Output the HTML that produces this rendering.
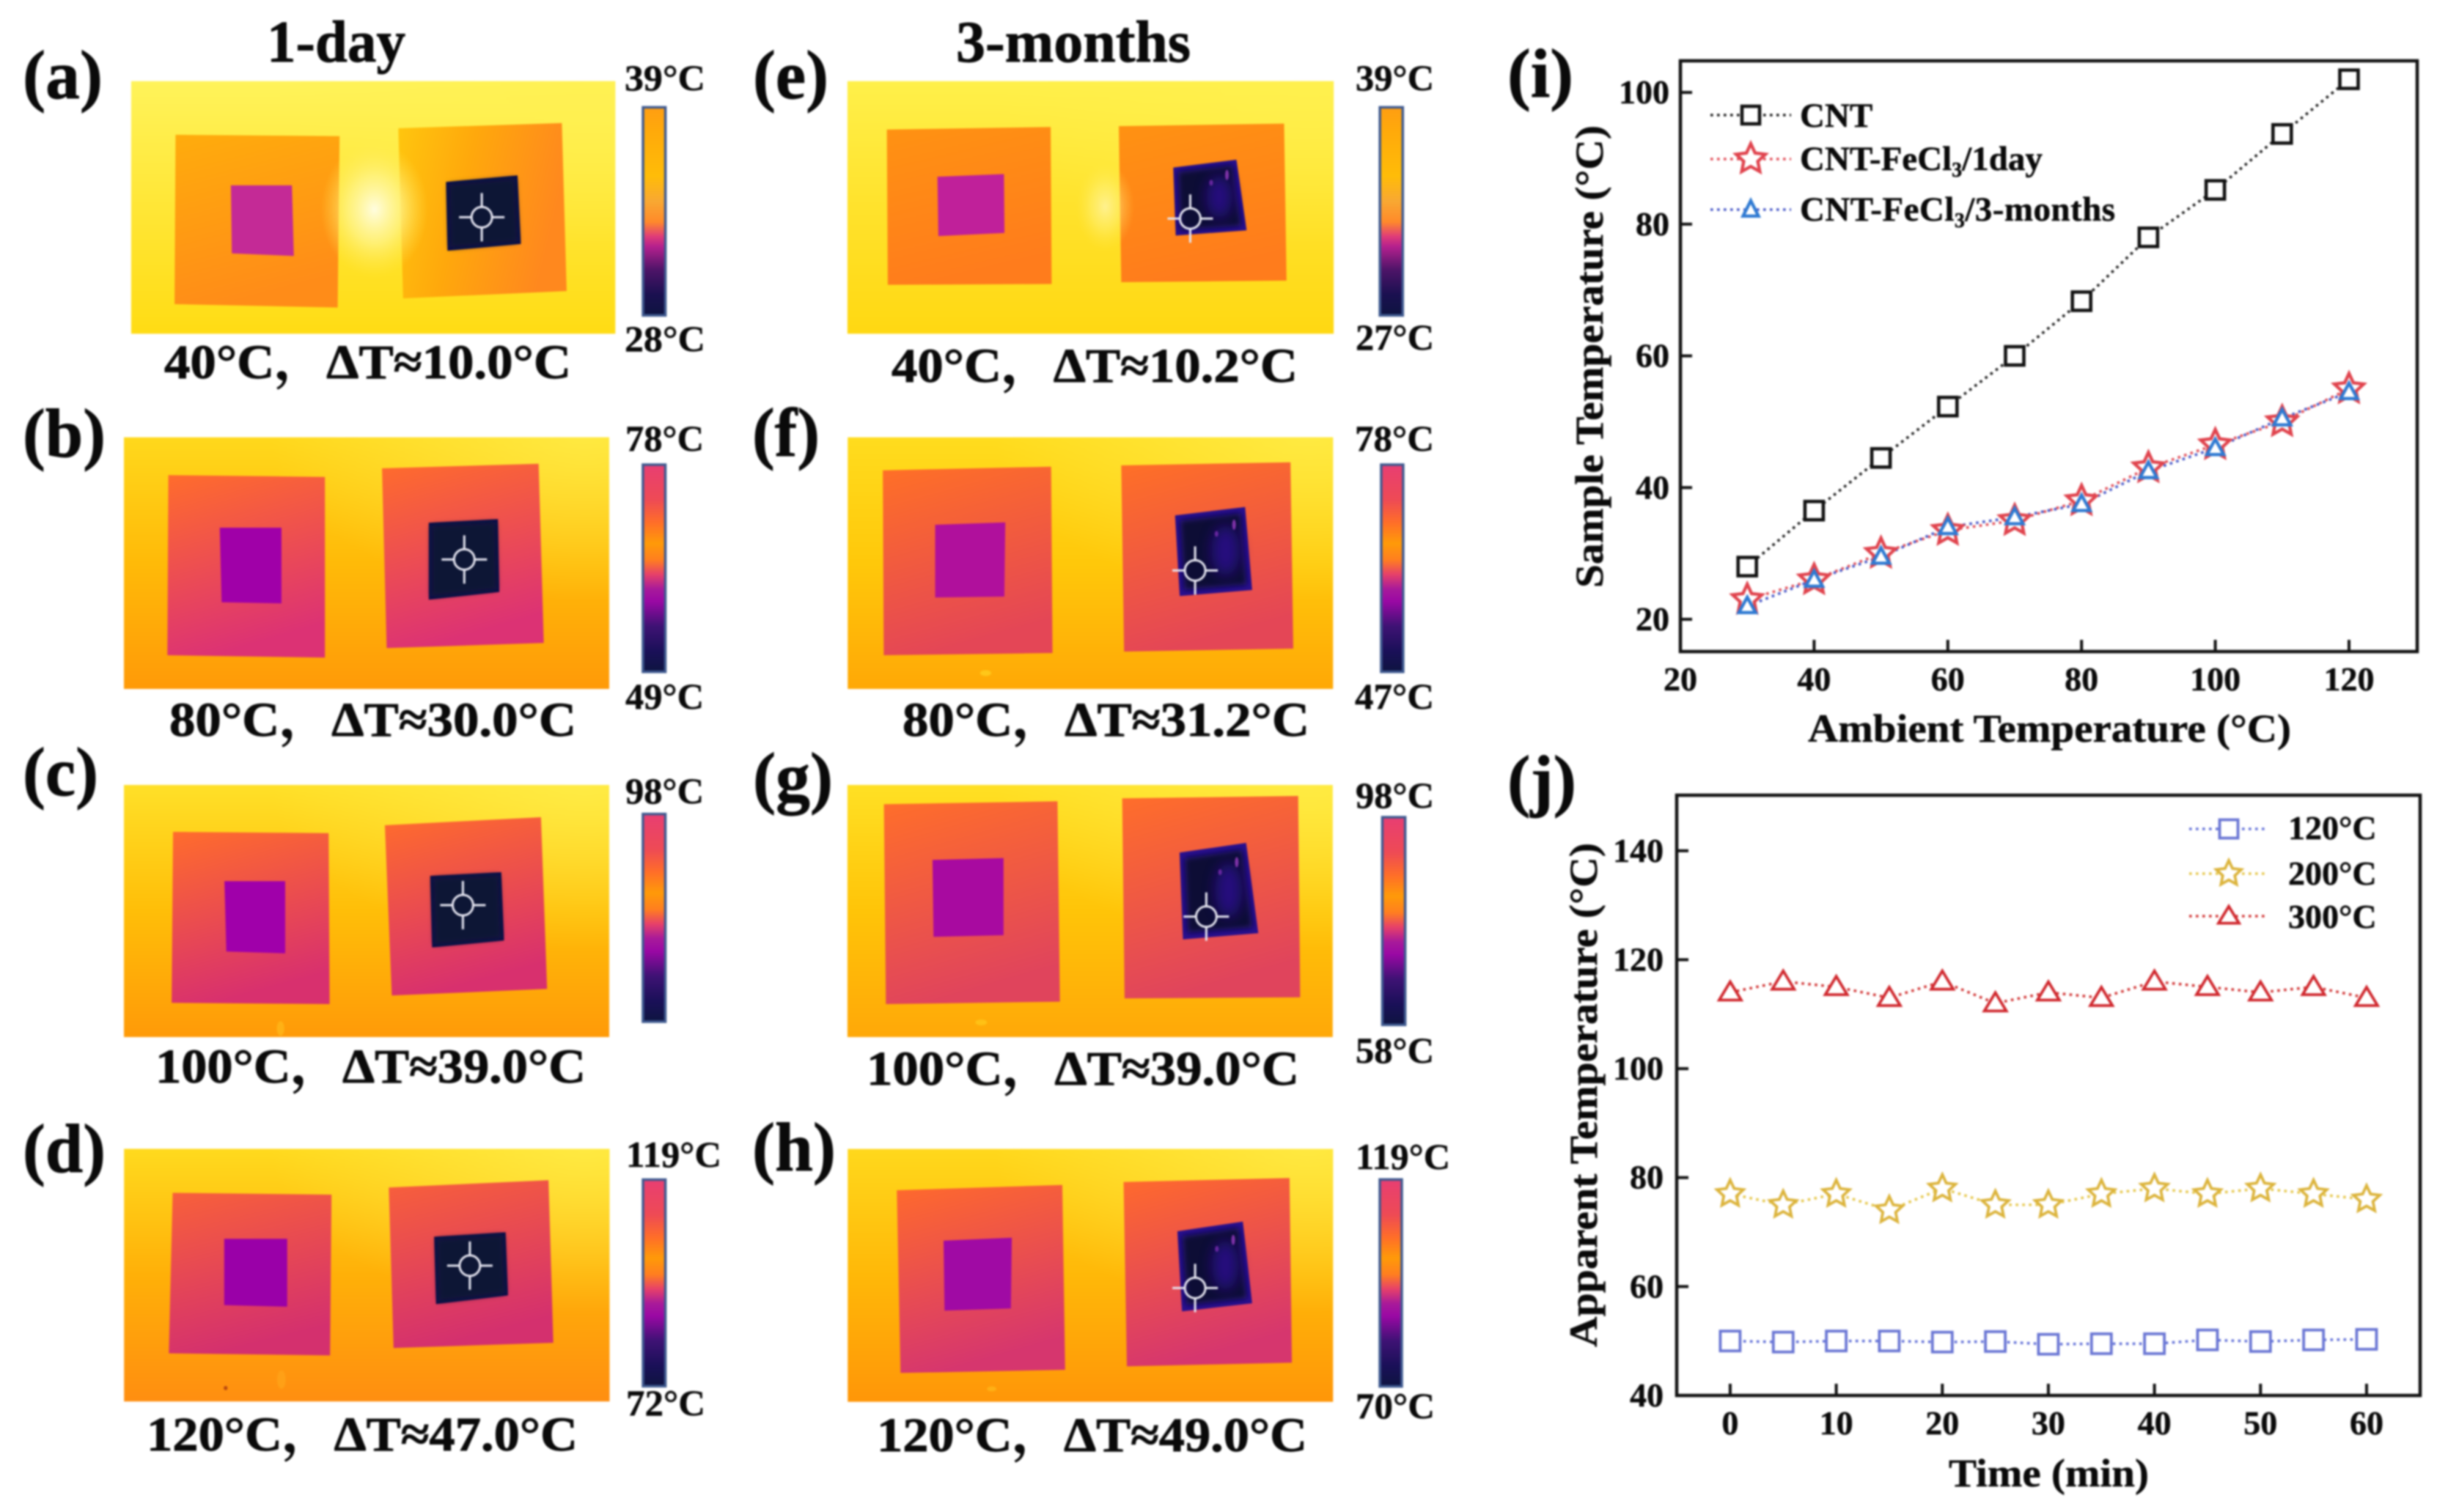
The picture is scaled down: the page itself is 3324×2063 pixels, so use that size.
<!DOCTYPE html>
<html lang="en">
<head>
<meta charset="utf-8">
<title>CNT-FeCl3 thermal imaging figure</title>
<style>
html,body{margin:0;padding:0;background:#fff;width:3324px;height:2063px;overflow:hidden}
#figure{display:block;filter:blur(1.2px)}
text{font-family:"Liberation Serif","Noto Serif CJK SC",serif;font-weight:bold;fill:#0a0a0a;stroke:#0a0a0a;stroke-width:.5px}
.letter{font-size:94px;stroke-width:.9px}
.title{font-size:80px;stroke-width:.9px}
.caption{font-size:66px;stroke-width:.9px}
.scale{font-size:50px}
.axis-title{font-size:54px}
.legend-text{font-size:47px}
.legend-text-j{font-size:46px}
</style>
</head>
<body>
<svg id="figure" xmlns="http://www.w3.org/2000/svg" width="3324" height="2063" viewBox="0 0 3324 2063">
<defs id="defs"></defs>
<g id="thermal-layer"></g>

<text class="title" x="364" y="84" textLength="189" lengthAdjust="spacingAndGlyphs">1-day</text>
<text class="title" x="1304" y="84" textLength="320" lengthAdjust="spacingAndGlyphs">3-months</text>

<text class="letter" x="31" y="134" textLength="109" lengthAdjust="spacingAndGlyphs">(a)</text>
<text class="letter" x="31" y="623" textLength="113" lengthAdjust="spacingAndGlyphs">(b)</text>
<text class="letter" x="31" y="1085" textLength="103" lengthAdjust="spacingAndGlyphs">(c)</text>
<text class="letter" x="31" y="1599" textLength="113" lengthAdjust="spacingAndGlyphs">(d)</text>
<text class="letter" x="1027" y="134" textLength="103" lengthAdjust="spacingAndGlyphs">(e)</text>
<text class="letter" x="1026" y="622" textLength="92" lengthAdjust="spacingAndGlyphs">(f)</text>
<text class="letter" x="1027" y="1092" textLength="109" lengthAdjust="spacingAndGlyphs">(g)</text>
<text class="letter" x="1026" y="1597" textLength="114" lengthAdjust="spacingAndGlyphs">(h)</text>
<text class="letter" x="2056" y="132" textLength="90" lengthAdjust="spacingAndGlyphs">(i)</text>
<text class="letter" x="2056" y="1096" textLength="94" lengthAdjust="spacingAndGlyphs">(j)</text>

<text class="caption" x="224" y="516" textLength="555" lengthAdjust="spacingAndGlyphs">40°C，ΔT≈10.0°C</text>
<text class="caption" x="231" y="1004" textLength="555" lengthAdjust="spacingAndGlyphs">80°C，ΔT≈30.0°C</text>
<text class="caption" x="212" y="1477" textLength="587" lengthAdjust="spacingAndGlyphs">100°C，ΔT≈39.0°C</text>
<text class="caption" x="200" y="1979" textLength="588" lengthAdjust="spacingAndGlyphs">120°C，ΔT≈47.0°C</text>
<text class="caption" x="1216" y="521" textLength="554" lengthAdjust="spacingAndGlyphs">40°C，ΔT≈10.2°C</text>
<text class="caption" x="1231" y="1004" textLength="555" lengthAdjust="spacingAndGlyphs">80°C，ΔT≈31.2°C</text>
<text class="caption" x="1182" y="1480" textLength="590" lengthAdjust="spacingAndGlyphs">100°C，ΔT≈39.0°C</text>
<text class="caption" x="1196" y="1980" textLength="587" lengthAdjust="spacingAndGlyphs">120°C，ΔT≈49.0°C</text>

<text class="scale" x="852" y="123" textLength="110" lengthAdjust="spacingAndGlyphs">39°C</text>
<text class="scale" x="852" y="479" textLength="110" lengthAdjust="spacingAndGlyphs">28°C</text>
<text class="scale" x="853" y="615" textLength="107" lengthAdjust="spacingAndGlyphs">78°C</text>
<text class="scale" x="853" y="967" textLength="107" lengthAdjust="spacingAndGlyphs">49°C</text>
<text class="scale" x="853" y="1096" textLength="107" lengthAdjust="spacingAndGlyphs">98°C</text>
<text class="scale" x="854" y="1592" textLength="130" lengthAdjust="spacingAndGlyphs">119°C</text>
<text class="scale" x="854" y="1931" textLength="108" lengthAdjust="spacingAndGlyphs">72°C</text>
<text class="scale" x="1849" y="123" textLength="107" lengthAdjust="spacingAndGlyphs">39°C</text>
<text class="scale" x="1849" y="477" textLength="107" lengthAdjust="spacingAndGlyphs">27°C</text>
<text class="scale" x="1848" y="615" textLength="108" lengthAdjust="spacingAndGlyphs">78°C</text>
<text class="scale" x="1848" y="967" textLength="108" lengthAdjust="spacingAndGlyphs">47°C</text>
<text class="scale" x="1849" y="1102" textLength="107" lengthAdjust="spacingAndGlyphs">98°C</text>
<text class="scale" x="1849" y="1450" textLength="107" lengthAdjust="spacingAndGlyphs">58°C</text>
<text class="scale" x="1849" y="1595" textLength="129" lengthAdjust="spacingAndGlyphs">119°C</text>
<text class="scale" x="1849" y="1935" textLength="108" lengthAdjust="spacingAndGlyphs">70°C</text>

<g id="chart-i">
  <text class="axis-title" x="2466" y="1012" textLength="659" lengthAdjust="spacingAndGlyphs">Ambient Temperature (°C)</text>
  <text class="axis-title" x="2186" y="802" transform="rotate(-90 2186 802)" textLength="631" lengthAdjust="spacingAndGlyphs">Sample Temperature (°C)</text>
  <text class="legend-text" x="2455" y="173">CNT</text>
  <text class="legend-text" x="2455" y="232">CNT-FeCl<tspan font-size="28" dy="9">3</tspan><tspan dy="-9">/1day</tspan></text>
  <text class="legend-text" x="2455" y="301" textLength="430" lengthAdjust="spacing">CNT-FeCl<tspan font-size="28" dy="9">3</tspan><tspan dy="-9">/3-months</tspan></text>
</g>

<g id="chart-j">
  <text class="axis-title" x="2658" y="2028" textLength="273" lengthAdjust="spacingAndGlyphs">Time (min)</text>
  <text class="axis-title" x="2178" y="1838" transform="rotate(-90 2178 1838)" textLength="688" lengthAdjust="spacingAndGlyphs">Apparent Temperature (°C)</text>
  <text class="legend-text-j" x="3121" y="1145">120°C</text>
  <text class="legend-text-j" x="3121" y="1207">200°C</text>
  <text class="legend-text-j" x="3121" y="1266">300°C</text>
</g>
</svg>

<script>
// ---- Chart (i) data ----
const ambientTemps = [30, 40, 50, 60, 70, 80, 90, 100, 110, 120];
const cntTemps = [28, 36.5, 44.5, 52.3, 60, 68.3, 78, 85.2, 93.7, 102];
const oneDayTemps = [23, 26, 30, 33.5, 35, 38, 43, 46.5, 50, 55];
const threeMonthTemps = [22, 26, 29.5, 34, 35.5, 37.5, 42.5, 46, 50.5, 54.5];
const xTicksI = [20, 40, 60, 80, 100, 120];
const yTicksI = [20, 40, 60, 80, 100];

// ---- Chart (j) data ----
const timeMinutes = [0, 5, 10, 15, 20, 25, 30, 35, 40, 45, 50, 55, 60];
const temps120 = [50, 49.8, 50, 50, 49.8, 49.9, 49.4, 49.5, 49.5, 50.2, 49.9, 50.2, 50.3];
const temps200 = [77, 75, 77, 74, 78, 75, 75, 77, 78, 77, 78, 77, 76];
const temps300 = [114, 116, 115, 113, 116, 112, 114, 113, 116, 115, 114, 115, 113];
const xTicksJ = [0, 10, 20, 30, 40, 50, 60];
const yTicksJ = [40, 60, 80, 100, 120, 140];

const NS = 'http://www.w3.org/2000/svg';
function add(parent, tag, attrs) {
  const el = document.createElementNS(NS, tag);
  for (const k in attrs) el.setAttribute(k, attrs[k]);
  parent.appendChild(el);
  return el;
}

// ---- Axis functions ----
const boxI = {l: 2292, r: 3297, t: 83, b: 889};
const boxJ = {l: 2287, r: 3301, t: 1085, b: 1904};
const xI = v => boxI.l + (v - 20) / (130.2 - 20) * (boxI.r - boxI.l);
const yI = v => boxI.b - (v - 15.1) / (104.8 - 15.1) * (boxI.b - boxI.t);
const xJ = v => boxJ.l + (v + 5.04) / (65.05 + 5.04) * (boxJ.r - boxJ.l);
const yJ = v => boxJ.b - (v - 40) / (150.2 - 40) * (boxJ.b - boxJ.t);

// ---- Marker shapes ----
function markerSquare(g, x, y, s, color, w) {
  const el = add(g, 'rect', {x: x - s / 2, y: y - s / 2, width: s, height: s, fill: '#fff', stroke: color, 'stroke-width': w});
  
  
}
function markerStar(g, x, y, r, color, w) {
  const pts = [];
  for (let i = 0; i < 10; i++) {
    const a = -Math.PI / 2 + i * Math.PI / 5;
    const rr = i % 2 ? r * 0.48 : r;
    pts.push((x + rr * Math.cos(a)).toFixed(1) + ',' + (y + rr * Math.sin(a)).toFixed(1));
  }
  const el = add(g, 'polygon', {points: pts.join(' '), fill: '#fff', stroke: color, 'stroke-width': w, 'stroke-linejoin': 'miter'});
  
  
}
function markerTri(g, x, y, wd, h, color, w) {
  const pts = [[x, y - h * 0.58], [x + wd / 2, y + h * 0.42], [x - wd / 2, y + h * 0.42]].map(p => p[0] + ',' + p[1]).join(' ');
  const el = add(g, 'polygon', {points: pts, fill: '#fff', stroke: color, 'stroke-width': w, 'stroke-linejoin': 'miter'});
  
  
}
function dotted(g, pts, color) {
  const el = add(g, 'polyline', {points: pts.map(p => p[0] + ',' + p[1]).join(' '), fill: 'none', stroke: color, 'stroke-width': 3.6, 'stroke-dasharray': '3.6 5.4'});
  
  
}
function frame(g, box) {
  const el = add(g, 'rect', {x: box.l, y: box.t, width: box.r - box.l, height: box.b - box.t, fill: 'none', stroke: '#111', 'stroke-width': 4.5});
  
  
}
function xTick(g, x, box, label, base) {
  const t = add(g, 'line', {x1: x, x2: x, y1: box.b, y2: box.b - 16, stroke: '#111', 'stroke-width': 4});
  
  
  const l = add(g, 'text', {x: x, y: base, 'text-anchor': 'middle', 'font-size': 46});
  l.textContent = label;
  
  
}
function yTick(g, y, box, label, right) {
  const t = add(g, 'line', {x1: box.l, x2: box.l + 16, y1: y, y2: y, stroke: '#111', 'stroke-width': 4});
  
  
  const l = add(g, 'text', {x: right, y: y + 15, 'text-anchor': 'end', 'font-size': 46});
  l.textContent = label;
  
  
}

// ---- Chart (i) ----
const gI = document.getElementById('chart-i');
frame(gI, boxI);
xTicksI.forEach(v => xTick(gI, xI(v), boxI, String(v), 942));
yTicksI.forEach(v => yTick(gI, yI(v), boxI, String(v), 2277));
dotted(gI, ambientTemps.map((a, i) => [xI(a), yI(cntTemps[i])]), '#222');
dotted(gI, ambientTemps.map((a, i) => [xI(a), yI(oneDayTemps[i])]), '#e2505a');
dotted(gI, ambientTemps.map((a, i) => [xI(a), yI(threeMonthTemps[i])]), '#4a5ac8');
ambientTemps.forEach((a, i) => markerSquare(gI, xI(a), yI(cntTemps[i]), 25, '#111', 4.6));
ambientTemps.forEach((a, i) => markerStar(gI, xI(a), yI(oneDayTemps[i]), 21, '#e0444e', 4.4));
ambientTemps.forEach((a, i) => markerTri(gI, xI(a), yI(threeMonthTemps[i]), 23, 21, '#2f7ad2', 4.4));
dotted(gI, [[2333, 157], [2443, 157]], '#222');
dotted(gI, [[2333, 217], [2443, 217]], '#e2505a');
dotted(gI, [[2333, 286], [2443, 286]], '#4a5ac8');
markerSquare(gI, 2388, 157, 24, '#111', 4.6);
markerStar(gI, 2388, 217, 21, '#e0444e', 4.4);
markerTri(gI, 2388, 286, 21, 21, '#2f7ad2', 4.4);

// ---- Chart (j) ----
const gJ = document.getElementById('chart-j');
frame(gJ, boxJ);
xTicksJ.forEach(v => xTick(gJ, xJ(v), boxJ, String(v), 1957));
yTicksJ.forEach(v => yTick(gJ, yJ(v), boxJ, String(v), 2269));
dotted(gJ, timeMinutes.map((t, i) => [xJ(t), yJ(temps120[i])]), '#6472d8');
dotted(gJ, timeMinutes.map((t, i) => [xJ(t), yJ(temps200[i])]), '#e6c84e');
dotted(gJ, timeMinutes.map((t, i) => [xJ(t), yJ(temps300[i])]), '#d23a3a');
timeMinutes.forEach((t, i) => markerSquare(gJ, xJ(t), yJ(temps120[i]), 27, '#6a76d4', 3.8));
timeMinutes.forEach((t, i) => markerStar(gJ, xJ(t), yJ(temps200[i]), 19, '#dcb43c', 3.8));
timeMinutes.forEach((t, i) => markerTri(gJ, xJ(t), yJ(temps300[i]), 30, 25, '#d0282e', 3.8));
dotted(gJ, [[2986, 1131], [3092, 1131]], '#6472d8');
dotted(gJ, [[2986, 1192], [3092, 1192]], '#e6c84e');
dotted(gJ, [[2986, 1250], [3092, 1250]], '#d23a3a');
markerSquare(gJ, 3040, 1131, 25, '#6a76d4', 3.8);
markerStar(gJ, 3040, 1192, 18, '#dcb43c', 3.8);
markerTri(gJ, 3040, 1250, 28, 23, '#d0282e', 3.8);

// ---- Thermal images (geometry) ----
const warmBar = [[0, '#ff9e12'], [.12, '#ffaa0a'], [.33, '#ffbc08'], [.45, '#f8a832'], [.55, '#ff8a2a'], [.62, '#e03c78'], [.67, '#b4208e'], [.78, '#4e1468'], [.9, '#1a1050'], [1, '#0e1440']];
const hotBar = [[0, '#e83e72'], [.17, '#ee4a55'], [.28, '#ff6e28'], [.38, '#ff9a08'], [.46, '#ff7e20'], [.53, '#e6406a'], [.6, '#a81a9a'], [.66, '#9a08a4'], [.78, '#3e1274'], [.9, '#1a1058'], [1, '#0e1440']];
const panels = [
  {id: 'a', ox: 0, oy: 0, sx: 1.537, sy: 2.8, bg: [275, 310, 1290, 1275], bgC: ['#fff35a', '#ffe636', '#ffdc14'], pC: ['#ffac0c', '#ff8c18'], pR: ['#ffc60e', '#ffa80c', '#ff881e'], inner: '#c42a96',
   L: [368,515,712,520,708,1175,366,1162], I: [484,708,612,708,616,978,486,968], R: [835,490,1178,470,1188,1112,845,1140], D: [935,695,1085,670,1092,932,938,958], C: [1010,830], bar: [1348,1395,410,1205], pal: warmBar, glow: [785,800,75,200,1], mottled: false, spots: []},
  {id: 'b', ox: 0, oy: 540, sx: 1.568, sy: 3, bg: [265,170,1303,1200], bgC: ['#ffd81c', '#ffba08', '#ff9a08'], pC: ['#ff6c2c', '#dc3274'], inner: '#a000a8',
   L: [360,325,695,332,695,1072,358,1062], I: [470,540,602,540,602,850,474,845], R: [817,297,1152,278,1163,1012,827,1033], D: [917,520,1065,505,1068,803,917,835], C: [993,670], bar: [1375,1423,282,1130], pal: hotBar, mottled: false, spots: []},
  {id: 'c', ox: 0, oy: 1020, sx: 1.568, sy: 3, bg: [265,153,1303,1185], bgC: ['#ffe028', '#ffbe08', '#ff9a08'], pC: ['#ff6c2c', '#d8306e'], inner: '#a000aa',
   L: [370,345,703,350,705,1050,367,1045], I: [480,547,610,547,610,842,484,835], R: [823,318,1157,285,1170,988,838,1015], D: [920,525,1072,510,1078,790,924,818], C: [990,645], bar: [1375,1423,272,1122], pal: hotBar, mottled: false, spots: [[600,1150,'#ffb81a',8,30]]},
  {id: 'd', ox: 0, oy: 1500, sx: 1.537, sy: 2.785, bg: [260,188,1278,1148], bgC: ['#ffda1e', '#ffb008', '#ff8e10'], pC: ['#f8603a', '#d4306e'], inner: '#9a00a8',
   L: [362,355,695,362,692,973,354,965], I: [470,530,602,530,602,788,470,782], R: [815,335,1150,307,1160,925,825,945], D: [910,522,1060,505,1065,745,914,778], C: [985,632], bar: [1348,1395,305,1090], pal: hotBar, mottled: false, spots: [[590,1065,'#ffa41a',9,35],[473,1097,'#a03010',4,8]]},
  {id: 'e', ox: 1000, oy: 0, sx: 1.5077, sy: 2.8, bg: [235,310,1235,1275], bgC: ['#fff04a', '#ffe22c', '#ffd812'], pC: ['#ff9212', '#ff7c1c'], inner: '#c0209a',
   L: [316,495,653,485,655,1085,318,1088], I: [420,675,557,665,558,890,422,902], R: [793,482,1133,472,1138,1072,798,1078], D: [905,640,1035,610,1056,880,910,900], C: [940,835], bar: [1330,1377,410,1205], pal: warmBar, glow: [765,790,40,130,.55], mottled: true, spots: []},
  {id: 'f', ox: 1000, oy: 540, sx: 1.568, sy: 3, bg: [245,170,1283,1200], bgC: ['#ffdc1e', '#ffc80a', '#ffa806'], pC: ['#ff7026', '#e44656'], inner: '#b0109c',
   L: [320,305,680,290,683,1053,322,1062], I: [432,528,582,518,580,822,432,826], R: [830,285,1192,272,1198,1035,836,1047], D: [945,490,1095,455,1110,795,955,820], C: [988,715], bar: [1386,1433,282,1130], pal: hotBar, mottled: true, spots: [[540,1135,'#ffd020',12,12]]},
  {id: 'g', ox: 1000, oy: 1020, sx: 1.5077, sy: 3, bg: [235,153,1233,1185], bgC: ['#ffe024', '#ffc408', '#ffa808'], pC: ['#ff6e2a', '#e0445c'], inner: '#a80aa0',
   L: [310,232,667,220,672,1040,314,1050], I: [410,460,556,452,556,768,412,775], R: [800,208,1162,198,1166,1022,805,1027], D: [918,430,1055,390,1080,760,925,785], C: [973,692], bar: [1335,1382,285,1135], pal: hotBar, mottled: true, spots: [[510,1125,'#ffc81a',12,12]]},
  {id: 'h', ox: 1000, oy: 1520, sx: 1.568, sy: 3, bg: [245,143,1283,1178], bgC: ['#ffd81c', '#ffb808', '#ff9608'], pC: ['#ff6a2c', '#d6366e'], inner: '#a00aa4',
   L: [350,312,704,290,710,1047,358,1060], I: [450,518,596,506,594,796,452,805], R: [835,278,1190,262,1195,1018,842,1033], D: [950,480,1090,440,1110,775,960,808], C: [988,712], bar: [1383,1430,268,1115], pal: hotBar, mottled: true, spots: [[553,1125,'#ffb81a',10,10]]}
];

const defs = document.getElementById('defs');
function gradient(id, stops, x2, y2) {
  const lg = add(defs, 'linearGradient', {id: id, x1: 0, y1: 0, x2: x2, y2: y2});
  stops.forEach(s => add(lg, 'stop', {offset: s[0], 'stop-color': s[1]}));
}
const corner = add(defs, 'radialGradient', {id: 'corner-light', cx: .95, cy: 0, r: .65});
add(corner, 'stop', {offset: 0, 'stop-color': '#fff050', 'stop-opacity': .7});
add(corner, 'stop', {offset: 1, 'stop-color': '#fff050', 'stop-opacity': 0});
const glowGrad = add(defs, 'radialGradient', {id: 'hot-glow'});
add(glowGrad, 'stop', {offset: 0, 'stop-color': '#fffde0', 'stop-opacity': 1});
add(glowGrad, 'stop', {offset: .5, 'stop-color': '#fff48a', 'stop-opacity': .75});
add(glowGrad, 'stop', {offset: 1, 'stop-color': '#ffe850', 'stop-opacity': 0});
const softBlur = add(defs, 'filter', {id: 'soft-blur', x: '-30%', y: '-30%', width: '160%', height: '160%'});
add(softBlur, 'feGaussianBlur', {stdDeviation: 4});
const wideBlur = add(defs, 'filter', {id: 'wide-blur', x: '-60%', y: '-60%', width: '220%', height: '220%'});
add(wideBlur, 'feGaussianBlur', {stdDeviation: 9});

const thermal = document.getElementById('thermal-layer');
panels.forEach(p => {
  const X = v => p.ox + v / p.sx;
  const Y = v => p.oy + v / p.sy;
  const poly = arr => {
    const out = [];
    for (let i = 0; i < arr.length; i += 2) out.push(X(arr[i]).toFixed(1) + ',' + Y(arr[i + 1]).toFixed(1));
    return out.join(' ');
  };
  gradient('bg-' + p.id, [[0, p.bgC[0]], [.5, p.bgC[1]], [1, p.bgC[2]]], 0, 1);
  gradient('paper-' + p.id, [[0, p.pC[0]], [1, p.pC[1]]], .25, 1);
  if (p.pR) gradient('paper-right-' + p.id, [[0, p.pR[0]], [.45, p.pR[1]], [1, p.pR[2]]], 1, .25);
  gradient('bar-' + p.id, p.pal, 0, 1);

  const g = add(thermal, 'g', {});
  
  

  const [bx0, by0, bx1, by1] = p.bg;
  const bg = add(g, 'rect', {x: X(bx0), y: Y(by0), width: X(bx1) - X(bx0), height: Y(by1) - Y(by0), fill: 'url(#bg-' + p.id + ')'});
  
  
  const cl = add(g, 'rect', {x: X(bx0), y: Y(by0), width: X(bx1) - X(bx0), height: Y(by1) - Y(by0), fill: 'url(#corner-light)'});
  
  

  const pl = add(g, 'polygon', {points: poly(p.L), fill: 'url(#paper-' + p.id + ')'});
  
  
  const pr = add(g, 'polygon', {points: poly(p.R), fill: p.pR ? 'url(#paper-right-' + p.id + ')' : 'url(#paper-' + p.id + ')'});
  
  

  if (p.glow) {
    const gl = add(g, 'ellipse', {cx: X(p.glow[0]), cy: Y(p.glow[1]), rx: p.glow[2] / p.sx * 1.5, ry: p.glow[3] / p.sy * 1.3, fill: 'url(#hot-glow)', opacity: p.glow[4]});
    
    
  }
  p.spots.forEach(s => {
    const sp = add(g, 'ellipse', {cx: X(s[0]), cy: Y(s[1]), rx: s[3] / p.sx, ry: s[4] / p.sy, fill: s[2], opacity: .75});
    
    
  });

  const inner = add(g, 'polygon', {points: poly(p.I), fill: p.inner});
  
  

  const dark = add(g, 'polygon', {points: poly(p.D), fill: p.mottled ? '#2a1090' : '#10104a'});
  
  
  // darker core of the film
  const cx = (p.D[0] + p.D[2] + p.D[4] + p.D[6]) / 4;
  const cy = (p.D[1] + p.D[3] + p.D[5] + p.D[7]) / 4;
  const shrink = p.mottled ? .86 : .92;
  const core = p.D.map((v, i) => (i % 2 ? cy : cx) + (v - (i % 2 ? cy : cx)) * shrink);
  const cr = add(g, 'polygon', {points: poly(core), fill: p.mottled ? '#0a1036' : '#0a1234', filter: 'url(#soft-blur)'});
  
  
  if (p.mottled) {
    // purple mottling in the aged film, toward its upper right
    const w = (p.D[2] - p.D[0]) / p.sx;
    const h = (p.D[5] - p.D[3]) / p.sy;
    const mot = add(g, 'ellipse', {cx: X(cx) + w * .18, cy: Y(cy) - h * .02, rx: w * .2, ry: h * .3, fill: '#2e1098', opacity: .75, filter: 'url(#wide-blur)'});
    
    
    const s1 = add(g, 'ellipse', {cx: X(cx) + w * .3, cy: Y(cy) - h * .33, rx: 2.5, ry: 7, fill: '#9a3cc0', opacity: .8});
    
    
    const s2 = add(g, 'ellipse', {cx: X(cx) + w * .05, cy: Y(cy) - h * .22, rx: 2.5, ry: 4, fill: '#7a2cb0', opacity: .8});
    
    
  }

  // measurement crosshair
  const mx = X(p.C[0]), my = Y(p.C[1]);
  const ring = add(g, 'ellipse', {cx: mx, cy: my, rx: 14, ry: 14, fill: 'none', stroke: '#e4e4f0', 'stroke-width': 3});
  
  
  const arms = add(g, 'path', {d: 'M' + (mx - 31) + ' ' + my + 'H' + (mx - 14) + 'M' + (mx + 14) + ' ' + my + 'H' + (mx + 31) + 'M' + mx + ' ' + (my - 33) + 'V' + (my - 14) + 'M' + mx + ' ' + (my + 14) + 'V' + (my + 33), fill: 'none', stroke: '#e4e4f0', 'stroke-width': 3});
  
  

  // color scale bar
  const [cx0, cx1, cy0, cy1] = p.bar;
  const bar = add(g, 'rect', {x: X(cx0), y: Y(cy0), width: X(cx1) - X(cx0), height: Y(cy1) - Y(cy0), fill: 'url(#bar-' + p.id + ')', stroke: '#3f5a90', 'stroke-width': 3.5});
  
  
});
</script>
</body>
</html>
